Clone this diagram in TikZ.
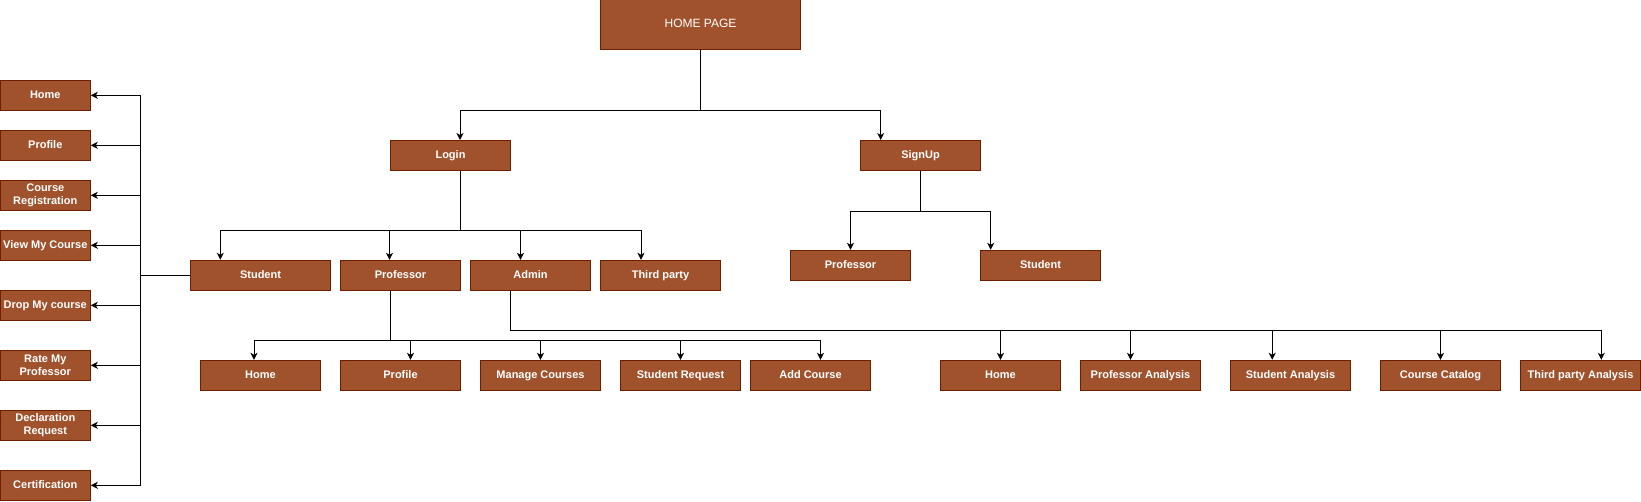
\documentclass[tikz,border=0pt]{standalone}
\usepackage{fontspec}
\setmainfont{Liberation Sans}
\usetikzlibrary{arrows.meta}
\definecolor{boxfill}{HTML}{A0522D}
\definecolor{boxline}{HTML}{6D1F00}
\begin{document}
\begin{tikzpicture}[x=1pt,y=-1pt,
  mbox/.style={draw=boxline,fill=boxfill,line width=1pt,text=white,inner sep=0pt,
    minimum width=120pt,minimum height=30pt,align=center,
    font=\fontsize{11pt}{13.5pt}\selectfont\bfseries},
  box/.style={mbox,text height=8pt,text depth=2.4pt},
  lbox/.style={box,minimum width=90pt},
  lmbox/.style={mbox,minimum width=90pt},
  topbox/.style={box,minimum width=200pt,minimum height=50pt,font=\fontsize{12pt}{14pt}\selectfont},
  ln/.style={line width=1pt,black},
  arr/.style={ln,-{Stealth[length=7pt,width=7pt,inset=2pt]}}]
\useasboundingbox (0,0) rectangle (1641,501);
% nodes
\node[topbox] (home) at (700.5,24.5) {HOME PAGE};
\node[box] (login) at (450.5,155.5) {Login};
\node[box] (signup) at (920.5,155.5) {SignUp};
\node[box,minimum width=140pt] (student) at (260.5,275.3) {Student};
\node[box] (prof) at (400.5,275.3) {Professor};
\node[box] (admin) at (530.5,275.3) {Admin};
\node[box] (third) at (660.5,275.3) {Third party};
\node[box] (sprof) at (850.5,265.3) {Professor};
\node[box] (sstud) at (1040.5,265.3) {Student};
% professor children
\node[box] (ph) at (260.5,375.3) {Home};
\node[box] (pp) at (400.5,375.3) {Profile};
\node[box] (pm) at (540.5,375.3) {Manage Courses};
\node[box] (ps) at (680.5,375.3) {Student Request};
\node[box] (pa) at (810.5,375.3) {Add Course};
% admin children
\node[box] (ah) at (1000.5,375.3) {Home};
\node[box] (apa) at (1140.5,375.3) {Professor Analysis};
\node[box] (asa) at (1290.5,375.3) {Student Analysis};
\node[box] (acc) at (1440.5,375.3) {Course Catalog};
\node[box] (ata) at (1580.5,375.3) {Third party Analysis};
% student children (left column)
\node[lbox] (l1) at (45.3,95.3) {Home};
\node[lbox] (l2) at (45.3,145.3) {Profile};
\node[lmbox] (l3) at (45.3,195.3) {Course\\Registration};
\node[lbox] (l4) at (45.3,245.3) {View My Course};
\node[lbox] (l5) at (45.3,305.3) {Drop My course};
\node[lmbox] (l6) at (45.3,365.3) {Rate My\\Professor};
\node[lmbox] (l7) at (45.3,425.3) {Declaration\\Request};
\node[lbox] (l8) at (45.3,485.3) {Certification};
% home page edges
\path (home.south) ++(0,60) coordinate (hb);
\draw[ln] (home.south) -- (hb);
\draw[arr] (hb) -| ([xshift=9.5pt]login.north);
\draw[arr] (hb) -| ([xshift=-39.8pt]signup.north);
% login edges
\path ([xshift=10pt]login.south) coordinate (ls);
\path (ls) ++(0,59) coordinate (lb);
\draw[ln] (ls) -- (lb);
\draw[arr] (lb) -| ([xshift=-40.2pt]student.north);
\draw[arr] (lb) -| ([xshift=-11pt]prof.north);
\draw[arr] (lb) -| ([xshift=-10pt]admin.north);
\draw[arr] (lb) -| ([xshift=-19.5pt]third.north);
% signup edges
\path (signup.south) ++(0,40) coordinate (sb);
\draw[ln] (signup.south) -- (sb);
\draw[arr] (sb) -| (sprof.north);
\draw[arr] (sb) -| ([xshift=-49.8pt]sstud.north);
% professor edges
\path ([xshift=-10pt]prof.south) coordinate (ps0);
\path (ps0) ++(0,50) coordinate (pb);
\draw[ln] (ps0) -- (pb);
\draw[arr] (pb) -| ([xshift=-6.5pt]ph.north);
\draw[arr] (pb) -| ([xshift=10pt]pp.north);
\draw[arr] (pb) -| (pm.north);
\draw[arr] (pb) -| (ps.north);
\draw[arr] (pb) -| ([xshift=10pt]pa.north);
% admin edges
\path ([xshift=-20pt]admin.south) coordinate (as0);
\path (as0) ++(0,40) coordinate (ab);
\draw[ln] (as0) -- (ab);
\draw[arr] (ab) -| (ah.north);
\draw[arr] (ab) -| ([xshift=-10pt]apa.north);
\draw[arr] (ab) -| ([xshift=-18.3pt]asa.north);
\draw[arr] (ab) -| (acc.north);
\draw[arr] (ab) -| ([xshift=20.8pt]ata.north);
% student edges
\path (student.west) ++(-50,0) coordinate (sp);
\draw[ln] (student.west) -- (sp);
\foreach \n in {l1,l2,l3,l4,l5,l6,l7,l8}{
  \draw[arr] (sp) |- (\n.east);
}
\end{tikzpicture}
\end{document}
